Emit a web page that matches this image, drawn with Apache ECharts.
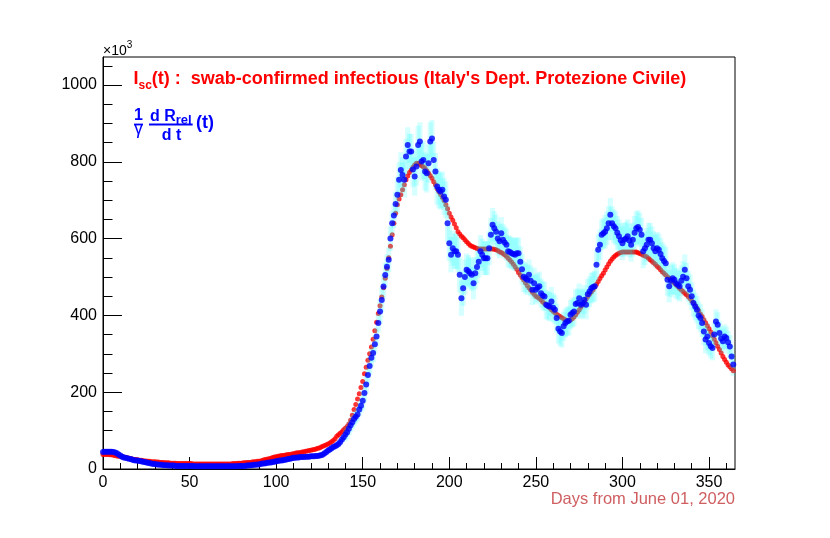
<!DOCTYPE html>
<html>
<head>
<meta charset="utf-8">
<script src="https://cdn.jsdelivr.net/npm/echarts@6/dist/echarts.min.js"></script>
<style>
html,body{margin:0;padding:0;background:#fff;}
#chart{width:830px;height:538px;}
</style>
</head>
<body>
<div id="chart"></div>
<script>
// ---- data ----
// red: I_sc(t), one value per day from day 0 (units of 10^3)
const redValues = [
38,38,38,38,37,37,36,35,34,33,
33,32,31,30,29,28,27,26,25,25,
24,23,23,22,21,21,20,20,19,19,
19,18,18,17,17,17,16,16,16,15,
15,15,15,14,14,14,14,14,14,14,
14,14,13,13,13,13,13,13,13,13,
13,13,13,13,13,13,13,13,13,13,
13,13,13,13,13,14,14,14,15,15,
15,16,16,17,17,17,18,19,19,20,
20,21,22,24,25,26,27,28,30,31,
32,33,34,35,35,36,37,38,38,39,
40,41,42,42,43,44,45,46,47,48,
49,50,51,52,54,55,57,59,61,63,
65,68,71,74,79,85,89,93,97,102,
106,111,117,127,140,155,168,182,196,212,
228,248,265,283,300,318,338,360,382,405,
425,448,472,497,522,550,580,610,640,666,
688,703,714,727,740,753,763,772,779,786,
792,796,796,794,790,787,783,777,770,764,
757,748,740,730,722,715,707,699,688,678,
666,656,648,638,628,618,612,606,602,597,
592,587,583,580,578,576,574,573,573,573,
573,573,573,573,573,573,572,571,569,566,
564,561,558,554,549,544,539,533,527,520,
512,505,499,492,485,478,472,466,460,455,
450,447,444,440,435,431,427,423,419,415,
411,407,403,400,397,394,391,389,387,387,
388,391,396,402,408,414,421,428,435,442,
449,455,461,467,474,481,488,496,503,510,
518,526,534,541,547,552,556,559,562,564,
565,565,565,565,565,565,565,565,565,563,
561,559,557,555,553,549,545,541,537,533,
528,524,519,514,510,505,501,497,493,488,
484,479,475,470,466,462,458,454,449,444,
438,432,426,419,412,404,397,389,381,373,
365,357,347,338,329,320,311,302,293,285,
278,271,266,261,256
];
// blue: (1/gamma) dR_rel/dt, one value per day from day 0
const blueValues = [
44,45,45,45,45,45,44,43,41,38,
35,32,30,29,28,27,26,24,23,22,
22,21,20,19,18,17,16,15,14,13,
13,12,12,11,11,10,10,10,9,9,
9,9,8,8,8,8,8,8,8,8,
8,8,8,7,7,7,7,7,7,7,
7,7,7,7,7,7,7,7,7,7,
7,7,7,7,7,7,7,7,8,8,
8,8,8,9,9,10,10,11,11,12,
12,13,14,14,15,16,17,17,18,19,
20,21,22,22,23,24,25,26,27,28,
29,29,30,30,31,31,31,32,32,32,
33,33,33,34,34,35,36,38,41,44,
48,51,54,57,59,62,65,70,77,83,
90,96,105,114,122,130,136,142,155,165,
178,198,220,245,268,290,302,325,345,380,
410,440,475,505,527,545,600,640,660,690,
714,753,779,766,753,814,844,827,827,780,
762,788,844,853,801,805,775,770,796,853,
861,805,775,736,727,723,727,710,701,640,
588,558,575,567,567,558,506,445,471,500,
519,515,510,506,484,510,526,540,567,558,
549,549,549,575,610,636,627,618,600,593,
614,597,590,584,567,565,562,560,558,562,
562,540,520,501,497,493,506,490,467,484,
467,472,476,458,452,449,428,425,423,436,
420,415,393,365,358,354,372,380,384,386,
402,406,410,430,432,445,428,432,441,428,
455,462,471,474,476,532,571,584,610,614,
618,627,640,662,640,632,627,615,606,596,
588,597,600,606,595,584,597,615,627,630,
623,610,567,575,584,597,597,588,575,567,
575,571,560,549,542,536,493,476,490,497,
493,484,480,476,490,501,519,497,476,467,
450,432,423,415,400,393,380,358,337,345,
328,320,315,350,384,376,354,340,333,345,
341,330,319,293,272
];
// half-height of the cyan error boxes, read per 10-day block (block k = days 10k..10k+9)
const blueErrPerBlock = [0,0,0,0,0,0,0,0,0,0,0,0,0,6,18,24,32,46,50,48,46,42,44,42,40,38,38,38,40,44,44,44,42,40,36,32,30];
const firstDay = 0;
const xMajorTicks = [0,50,100,150,200,250,300,350];
const xMinorTicks = [10,20,30,40,60,70,80,90,110,120,130,140,160,170,180,190,210,220,230,240,260,270,280,290,310,320,330,340,360];
const yMajorTicks = [0,200,400,600,800,1000];
const yMinorTicks = [50,100,150,250,300,350,450,500,550,650,700,750,850,900,950,1050];
const xRange = [0, 365];
const yRange = [0, 1073];

// ---- build ----
const FONT = '"Liberation Sans", Arial, Helvetica, sans-serif';
const redData = redValues.map((v, i) => [firstDay + i, v]);
const blueData = blueValues.map((v, i) => [firstDay + i, v]);
const errData = blueValues.map((v, i) => [firstDay + i, v, blueErrPerBlock[Math.floor((firstDay + i) / 10)]])
  .filter(d => d[2] > 0);

const chart = echarts.init(document.getElementById('chart'), null, {renderer: 'canvas'});

const mctx = document.createElement('canvas').getContext('2d');
function tw(s, font) { mctx.font = font; return mctx.measureText(s).width; }

const RED = '#ff0000', BLUE = '#0000ff';
const f18b = 'bold 18px ' + FONT, f12b = 'bold 12px ' + FONT;
function txt(text, x, baseline, size, weight, color, align) {
  return {
    type: 'text', silent: true, z: 100,
    style: {
      text: text, x: x, y: baseline - 0.31 * size,
      font: (weight || 'normal') + ' ' + size + 'px ' + FONT,
      fill: color, align: align || 'left', verticalAlign: 'middle'
    }
  };
}
const x0 = 133.5;
const wI = tw('I', f18b), wsc = tw('sc', f12b);
const wdR = tw('d R', 'bold 16px ' + FONT), wrel = tw('rel', 'bold 13px ' + FONT);
const graphics = [
  txt('\u00d710', 103, 55, 14, 'normal', '#000'),
  txt('3', 103 + tw('\u00d710', '14px ' + FONT), 48, 10, 'normal', '#000'),
  txt('I', x0, 85, 18, 'bold', RED),
  txt('sc', x0 + wI, 89, 12, 'bold', RED),
  txt("(t) :  swab-confirmed infectious (Italy's Dept. Protezione Civile)", x0 + wI + wsc, 85, 18, 'bold', RED),
  txt('1', 138.5, 120.5, 16, 'bold', BLUE, 'center'),
  {type: 'line', silent: true, z: 100, shape: {x1: 134, y1: 124.5, x2: 143, y2: 124.5}, style: {stroke: BLUE, lineWidth: 1.8}},
  txt('\u03b3', 138.5, 135, 18, 'normal', BLUE, 'center'),
  txt('d R', 150, 121.5, 16, 'bold', BLUE),
  txt('rel', 150 + wdR, 124.5, 13, 'bold', BLUE),
  {type: 'line', silent: true, z: 100, shape: {x1: 149, y1: 124.5, x2: 151 + wdR + wrel, y2: 124.5}, style: {stroke: BLUE, lineWidth: 1.8}},
  txt('d t', 171.5, 140.5, 16, 'bold', BLUE, 'center'),
  txt('(t)', 196, 129, 18, 'bold', BLUE),
  txt('Days from June 01, 2020', 735, 505, 16.5, 'normal', '#cf5e61', 'right')
];

const axisLineStyle = {color: '#000', width: 1};
const plainNum = v => String(v);
const option = {
  animation: false,
  backgroundColor: '#fff',
  grid: {left: 103, top: 57, right: 95, bottom: 69, show: true, borderColor: '#000', borderWidth: 1, backgroundColor: 'transparent'},
  xAxis: [
    {type: 'value', min: xRange[0], max: xRange[1], position: 'bottom',
     axisLine: {show: true, lineStyle: axisLineStyle},
     axisTick: {show: true, inside: true, length: 12, lineStyle: axisLineStyle, customValues: xMajorTicks},
     axisLabel: {show: true, customValues: xMajorTicks, formatter: plainNum, margin: 6, fontSize: 16, color: '#000', fontFamily: FONT},
     splitLine: {show: false}},
    {type: 'value', min: xRange[0], max: xRange[1], position: 'bottom',
     axisLine: {show: false},
     axisTick: {show: true, inside: true, length: 6, lineStyle: axisLineStyle, customValues: xMinorTicks},
     axisLabel: {show: false},
     splitLine: {show: false}}
  ],
  yAxis: [
    {type: 'value', min: yRange[0], max: yRange[1], position: 'left',
     axisLine: {show: true, lineStyle: axisLineStyle},
     axisTick: {show: true, inside: true, length: 19, lineStyle: axisLineStyle, customValues: yMajorTicks},
     axisLabel: {show: true, customValues: yMajorTicks, formatter: plainNum, margin: 6, fontSize: 16, color: '#000', fontFamily: FONT},
     splitLine: {show: false}},
    {type: 'value', min: yRange[0], max: yRange[1], position: 'left',
     axisLine: {show: false},
     axisTick: {show: true, inside: true, length: 9.5, lineStyle: axisLineStyle, customValues: yMinorTicks},
     axisLabel: {show: false},
     splitLine: {show: false}}
  ],
  series: [
    {type: 'scatter', name: 'Isc', data: redData, xAxisIndex: 0, yAxisIndex: 0,
     symbol: 'circle', symbolSize: 5, itemStyle: {color: RED}, z: 2, silent: true},
    {type: 'custom', name: 'err', data: errData, xAxisIndex: 0, yAxisIndex: 0, z: 3, silent: true,
     renderItem: function (params, api) {
       const x = api.value(0), y = api.value(1), e = api.value(2);
       const p1 = api.coord([x - 1.5, y + e]);
       const p2 = api.coord([x + 1.5, y - e]);
       const cs = params.coordSys;
       const r = echarts.graphic.clipRectByRect(
         {x: p1[0], y: p1[1], width: p2[0] - p1[0], height: p2[1] - p1[1]},
         {x: cs.x, y: cs.y, width: cs.width, height: cs.height});
       return r && {type: 'rect', shape: r, style: {fill: 'rgba(0,255,255,0.16)'}};
     }},
    {type: 'scatter', name: 'dR', data: blueData, xAxisIndex: 0, yAxisIndex: 0,
     symbol: 'circle', symbolSize: 6, itemStyle: {color: BLUE}, z: 4, silent: true}
  ],
  graphic: graphics
};
chart.setOption(option);
</script>
</body>
</html>
